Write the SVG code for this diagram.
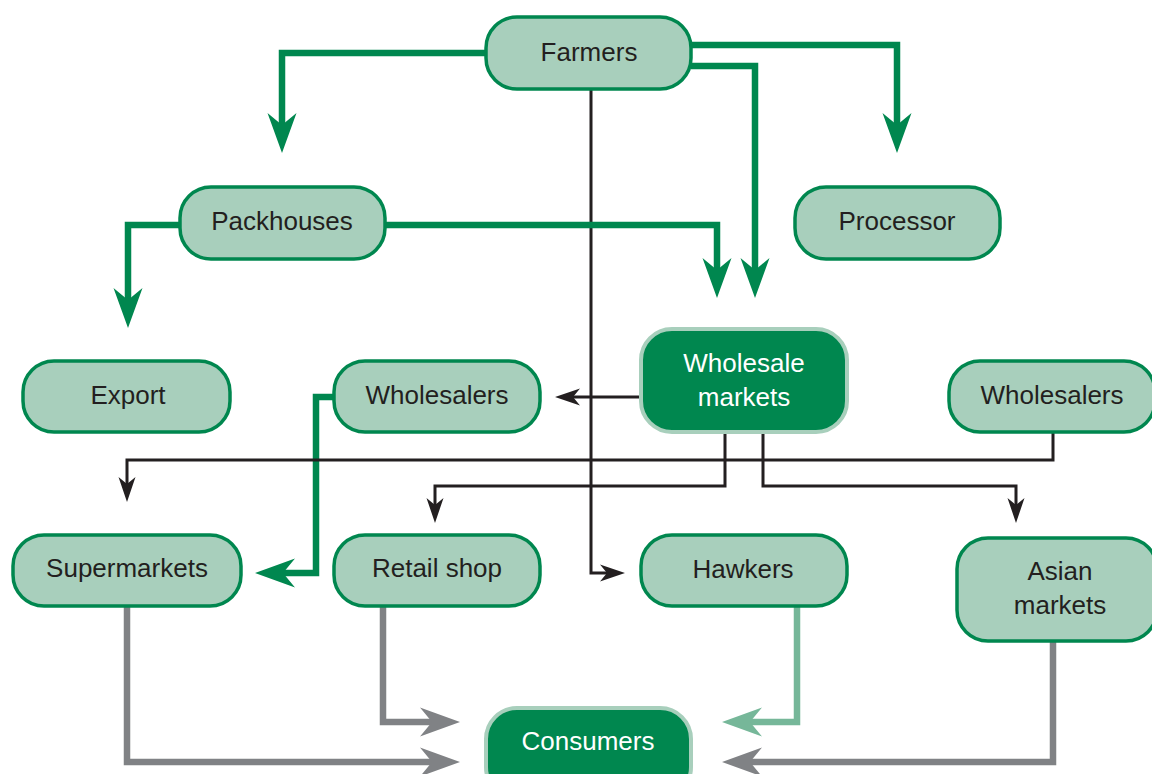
<svg xmlns="http://www.w3.org/2000/svg" width="1152" height="774" viewBox="0 0 1152 774">
<style>
.node{fill:#a8cfbc;stroke:#00874f;stroke-width:3.5}
.dark{fill:#00874f;stroke:#a8cfbc;stroke-width:4}
.t{font-family:"Liberation Sans",Arial,sans-serif;font-size:26px;fill:#231f20;text-anchor:middle}
.tw{fill:#ffffff}
.g{fill:none;stroke:#00874f;stroke-width:6.5;marker-end:url(#ag)}
.k{fill:none;stroke:#231f20;stroke-width:3;marker-end:url(#ak)}
.y{fill:none;stroke:#808285;stroke-width:6.5;marker-end:url(#ay)}
.lg{fill:none;stroke:#76b799;stroke-width:6.5;marker-end:url(#al)}
</style>
<defs>
<marker id="ag" markerUnits="userSpaceOnUse" orient="auto" refX="0" refY="0" markerWidth="50" markerHeight="40" viewBox="-25 -20 50 40" overflow="visible"><path d="M20,0 L-20,-14.5 L-8,0 L-20,14.5 Z" fill="#00874f"/></marker>
<marker id="ay" markerUnits="userSpaceOnUse" orient="auto" refX="0" refY="0" markerWidth="50" markerHeight="40" viewBox="-25 -20 50 40" overflow="visible"><path d="M20,0 L-20,-14.5 L-8,0 L-20,14.5 Z" fill="#808285"/></marker>
<marker id="al" markerUnits="userSpaceOnUse" orient="auto" refX="0" refY="0" markerWidth="50" markerHeight="40" viewBox="-25 -20 50 40" overflow="visible"><path d="M20,0 L-20,-14.5 L-8,0 L-20,14.5 Z" fill="#76b799"/></marker>
<marker id="ak" markerUnits="userSpaceOnUse" orient="auto" refX="0" refY="0" markerWidth="30" markerHeight="24" viewBox="-15 -12 30 24" overflow="visible"><path d="M12,0 L-13,-8.5 L-6,0 L-13,8.5 Z" fill="#231f20"/></marker>
</defs>
<rect width="1152" height="774" fill="#ffffff"/>
<g id="connectors">
<path class="g" d="M334,397 H316 V573 H275"/>
<path class="k" d="M591,89 V573 H613"/>
<path class="k" d="M640,397 H567"/>
<path class="k" d="M1053,432 V460 H127 V490"/>
<path class="k" d="M725,432 V486 H435 V511"/>
<path class="k" d="M763,432 V486 H1016 V511"/>
<path class="g" d="M486,53 H282 V133"/>
<path class="g" d="M691,45 H897 V133"/>
<path class="g" d="M691,66 H755 V278"/>
<path class="g" d="M385,225 H717 V278"/>
<path class="g" d="M180,225 H128 V308"/>
<path class="y" d="M127,606 V762 H440"/>
<path class="y" d="M383,606 V722 H440"/>
<path class="y" d="M1053,641 V762 H742"/>
<path class="lg" d="M797,606 V722 H742"/>
</g>
<g id="farmers"><rect class="node" x="486" y="17" width="205" height="72" rx="31"/><text class="t" x="589" y="61">Farmers</text></g>
<g id="packhouses"><rect class="node" x="180" y="187" width="205" height="72" rx="31"/><text class="t" x="282" y="230">Packhouses</text></g>
<g id="processor"><rect class="node" x="795" y="187" width="205" height="72" rx="31"/><text class="t" x="897" y="230">Processor</text></g>
<g id="export"><rect class="node" x="23" y="361" width="207" height="71" rx="31"/><text class="t" x="128" y="404">Export</text></g>
<g id="wholesalers-left"><rect class="node" x="334" y="361" width="206" height="71" rx="31"/><text class="t" x="437" y="404">Wholesalers</text></g>
<g id="wholesale-markets"><rect class="dark" x="641" y="329" width="206" height="103" rx="31"/><text class="t tw" x="744" y="372">Wholesale</text><text class="t tw" x="744" y="406">markets</text></g>
<g id="wholesalers-right"><rect class="node" x="949" y="361" width="206" height="71" rx="31"/><text class="t" x="1052" y="404">Wholesalers</text></g>
<g id="supermarkets"><rect class="node" x="13" y="535" width="228" height="71" rx="31"/><text class="t" x="127" y="577">Supermarkets</text></g>
<g id="retail-shop"><rect class="node" x="334" y="535" width="206" height="71" rx="31"/><text class="t" x="437" y="577">Retail shop</text></g>
<g id="hawkers"><rect class="node" x="641" y="535" width="206" height="71" rx="31"/><text class="t" x="743" y="578">Hawkers</text></g>
<g id="asian-markets"><rect class="node" x="957" y="538" width="200" height="103" rx="31"/><text class="t" x="1060" y="580">Asian</text><text class="t" x="1060" y="614">markets</text></g>
<g id="consumers"><rect class="dark" x="486" y="708" width="205" height="90" rx="31"/><text class="t tw" x="588" y="750">Consumers</text></g>
</svg>
